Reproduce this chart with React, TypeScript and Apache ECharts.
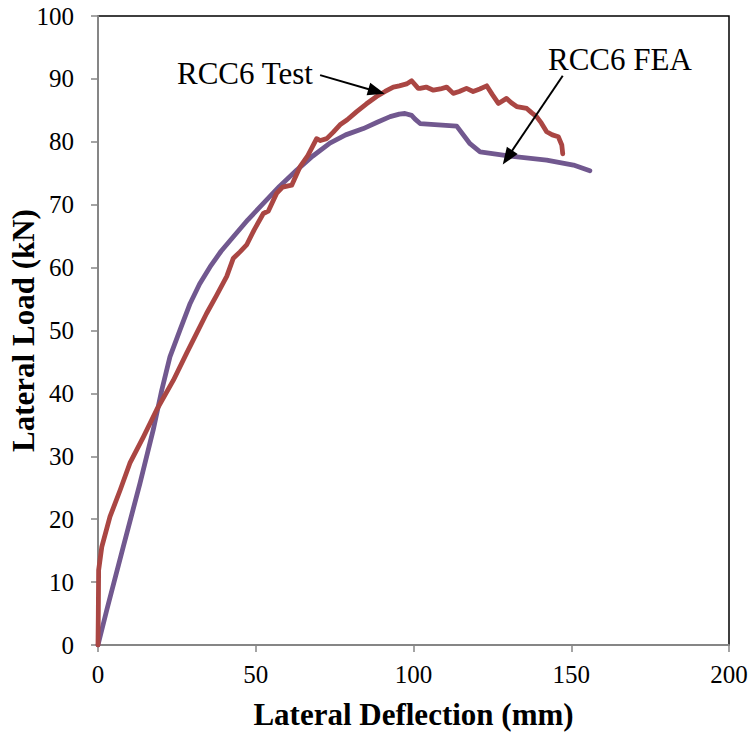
import React, { useEffect, useRef } from "react";
import * as echarts from "echarts";

const testData: [number, number][] = [
  [0, 0], [0.1, 5], [0.2, 11.9], [1.2, 15.6], [3.8, 20.4], [7.0, 24.6], [10.1, 28.9],
  [14.4, 33.1], [18.6, 37.4], [23.9, 42.1], [28.1, 46.4], [31.8, 50.1], [34.4, 52.7],
  [37.5, 55.5], [40.8, 58.6], [42.9, 61.5], [45, 62.5], [47.1, 63.6], [49.5, 66],
  [52.4, 68.6], [54, 69], [56.6, 71.8], [58.5, 72.8], [61.4, 73.1], [64.0, 76.0],
  [66.5, 77.8], [69.3, 80.5], [70.5, 80.2], [72.5, 80.5], [74.5, 81.5], [76.7, 82.7],
  [79, 83.5], [82.0, 84.8], [85, 86], [88.3, 87.2], [91, 88], [93.6, 88.7], [95.5, 88.9],
  [97.8, 89.2], [99.4, 89.7], [101.5, 88.5], [102.1, 88.5], [104, 88.7], [106.3, 88.2],
  [108.5, 88.4], [110.5, 88.7], [112.6, 87.7], [114.5, 88], [116.8, 88.5], [118.9, 88.0],
  [121, 88.4], [123.2, 88.9], [125, 87.5], [126.9, 86.1], [129.5, 86.9], [131, 86.2],
  [132.7, 85.6], [135.9, 85.3], [137.5, 84.6], [139.0, 84.0], [140.5, 83], [142.2, 81.6],
  [144, 81.1], [145.9, 80.8], [147, 79.5], [147.3, 78.1],
];

const feaData: [number, number][] = [
  [0, 0], [2.8, 5.6], [8.0, 15.6], [13.3, 25.7], [17.5, 34.2], [20.2, 40.5], [22.8, 45.8],
  [26.0, 50.1], [29.2, 54.3], [32.2, 57.4], [35.5, 60.1], [39, 62.6], [42.9, 64.9],
  [47.5, 67.6], [52.4, 70.2], [57.5, 72.9], [63.0, 75.5], [68, 77.7], [73.5, 79.8],
  [78.5, 81.1], [84.1, 82.1], [88.5, 83.1], [92.6, 84.0], [95.5, 84.4], [97.3, 84.5],
  [99.4, 84.2], [100.5, 83.6], [102.1, 82.9], [113.7, 82.5], [117.9, 79.7], [121.1, 78.4],
  [129.5, 77.8], [142.2, 77.1], [150.7, 76.3], [155.9, 75.4],
];

const xTicks = [0, 50, 100, 150, 200];
const yTicks = [0, 10, 20, 30, 40, 50, 60, 70, 80, 90, 100];

const testArrow: [number, number][] = [[70.4, 90.6], [88.3, 88.0]];
const feaArrow: [number, number][] = [[147.3, 90.5], [129.8, 77.5]];

const FONT = "Liberation Serif";

export default function App() {
  const ref = useRef<HTMLDivElement>(null);
  useEffect(() => {
    if (!ref.current) return;
    const chart = echarts.init(ref.current, null, { renderer: "svg" });
    const arrowStyle = {
      silent: true,
      symbol: ["none", "triangle"],
      symbolSize: [13, 17],
      label: { show: false },
      lineStyle: { color: "#000", width: 2, type: "solid" as const },
      emphasis: { disabled: true },
    };
    chart.setOption({
      animation: false,
      backgroundColor: "#fff",
      textStyle: { fontFamily: FONT },
      grid: {
        left: 98,
        right: 22,
        top: 16,
        bottom: 92,
        show: true,
        borderColor: "#000",
        borderWidth: 1.5,
        containLabel: false,
        outerBoundsMode: "none",
      },
      xAxis: {
        type: "value",
        min: xTicks[0],
        max: xTicks[xTicks.length - 1],
        interval: 50,
        name: "Lateral Deflection (mm)",
        nameLocation: "middle",
        nameGap: 54,
        nameMoveOverlap: false,
        nameTextStyle: { fontFamily: FONT, fontWeight: "bold", fontSize: 31, color: "#000" },
        axisLine: { lineStyle: { color: "#868686", width: 2 } },
        axisTick: { show: true, inside: false, length: 7, lineStyle: { color: "#868686", width: 1.5 } },
        axisLabel: { fontFamily: FONT, fontSize: 25, color: "#000", margin: 17 },
        splitLine: { show: false },
      },
      yAxis: {
        type: "value",
        min: yTicks[0],
        max: yTicks[yTicks.length - 1],
        interval: 10,
        name: "Lateral Load (kN)",
        nameLocation: "middle",
        nameGap: 59,
        nameMoveOverlap: false,
        nameRotate: 90,
        nameTextStyle: { fontFamily: FONT, fontWeight: "bold", fontSize: 31, color: "#000" },
        axisLine: { show: true, lineStyle: { color: "#868686", width: 2 } },
        axisTick: { show: true, inside: false, length: 7, lineStyle: { color: "#868686", width: 1.5 } },
        axisLabel: { fontFamily: FONT, fontSize: 25, color: "#000", margin: 24 },
        splitLine: { show: false },
      },
      series: [
        {
          name: "RCC6 FEA",
          type: "line",
          data: feaData,
          showSymbol: false,
          symbol: "none",
          lineStyle: { color: "#71588F", width: 4.8, cap: "round", join: "round" },
          z: 2,
        },
        {
          name: "RCC6 Test",
          type: "line",
          data: testData,
          showSymbol: false,
          symbol: "none",
          lineStyle: { color: "#AA4643", width: 4.8, cap: "round", join: "round" },
          z: 3,
        },
        {
          name: "arrows",
          type: "line",
          data: [],
          symbol: "none",
          z: 5,
          markLine: {
            ...arrowStyle,
            data: [
              [{ coord: testArrow[0] }, { coord: testArrow[1] }],
              [{ coord: feaArrow[0] }, { coord: feaArrow[1] }],
            ],
          },
        },
      ],
      graphic: [
        {
          type: "text",
          left: 177,
          top: 58,
          style: { text: "RCC6 Test", fontFamily: FONT, fontSize: 31, fill: "#000" },
          z: 10,
        },
        {
          type: "text",
          left: 548,
          top: 44,
          style: { text: "RCC6 FEA", fontFamily: FONT, fontSize: 31, fill: "#000" },
          z: 10,
        },
      ],
    });
    return () => chart.dispose();
  }, []);
  return (
    <div
      ref={ref}
      style={{ position: "fixed", left: 0, top: 0, width: 751, height: 737, background: "#fff" }}
    />
  );
}
